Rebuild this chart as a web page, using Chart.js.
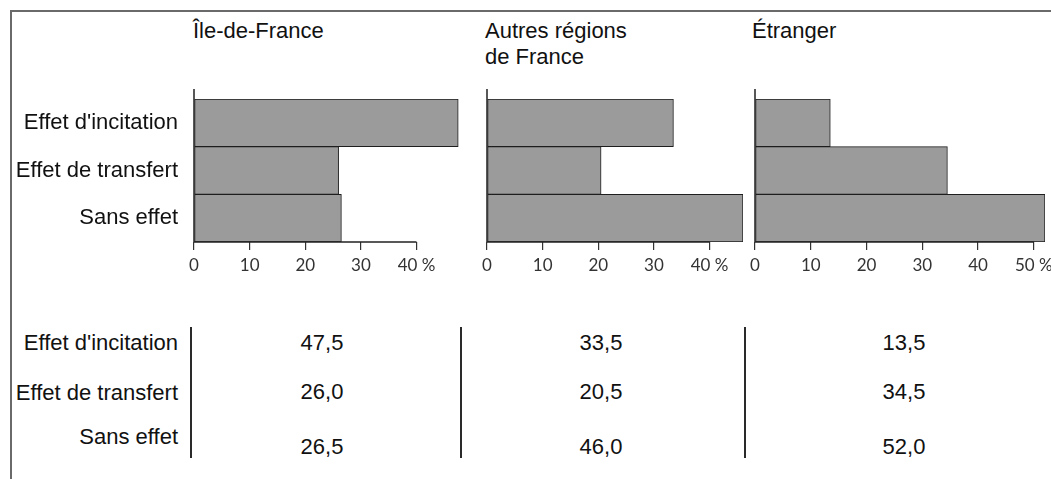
<!DOCTYPE html>
<html lang="fr">
<head>
<meta charset="utf-8">
<title>Effets par région</title>
<script src="https://cdn.jsdelivr.net/npm/chart.js@4/dist/chart.umd.min.js"></script>
<style>
  html, body { margin: 0; padding: 0; background: #fff; }
  body { width: 1051px; height: 479px; position: relative; overflow: hidden;
         font-family: "Liberation Sans", Arial, sans-serif; color: #111; }
  .frame { position: absolute; left: 10px; top: 10px; right: -10px; bottom: -10px;
           border-top: 2px solid #6a6a6a; border-left: 2px solid #6a6a6a; }
  .txt { position: absolute; font-size: 22px; line-height: 26px; white-space: nowrap; }
  .right { text-align: right; }
  .center { text-align: center; }
  .sep { position: absolute; width: 0; border-left: 2px solid #2a2a2a; }
  canvas { position: absolute; }
</style>
</head>
<body>
<div class="frame"></div>
<div id="root"></div>
<script>
// Effect categories (rows) and the three origin groups (panels)
const categories = ["Effet d'incitation", "Effet de transfert", "Sans effet"];
const regionTitles = ["Île-de-France", "Autres régions\nde France", "Étranger"];

// Shares in %, one array per origin group, in category order
const ileDeFrance = [47.5, 26.0, 26.5];
const autresRegions = [33.5, 20.5, 46.0];
const etranger = [13.5, 34.5, 52.0];

// Tick values shown on each panel's horizontal axis
const ticksIleDeFrance = [0, 10, 20, 30, 40];
const ticksAutresRegions = [0, 10, 20, 30, 40];
const ticksEtranger = [0, 10, 20, 30, 40, 50];

// Axis maxima (bars may run past the last tick)
const axisMax = [48, 46, 52];

const seriesList = [ileDeFrance, autresRegions, etranger];
const tickList = [ticksIleDeFrance, ticksAutresRegions, ticksEtranger];

// ---- layout ----
const PX_PER_UNIT = 5.56;
const panelZeroX = [194, 487, 755];
const CANVAS_TOP = 80, PAD_TOP = 19, AREA_H = 143, XAXIS_H = 40, PAD_RIGHT = 26, PAD_LEFT = 20;
const LABEL_FONT = { family: "'Liberation Sans', Arial, sans-serif", size: 22 };
const TICK_FONT = { family: "Lato, 'Open Sans', sans-serif", size: 17 };

const root = document.getElementById('root');

function addText(str, left, top, cls, width) {
  const d = document.createElement('div');
  d.className = 'txt ' + (cls || '');
  d.style.left = left + 'px';
  d.style.top = top + 'px';
  if (width) d.style.width = width + 'px';
  d.innerHTML = str.split('\n').map(s => s.replace(/&/g, '&amp;').replace(/</g, '&lt;')).join('<br>');
  root.appendChild(d);
}

// Draws the axis lines: the vertical one rising a little above the bars,
// the horizontal one running from 0 to the last labelled tick.
const axisLines = {
  id: 'axisLines',
  afterDatasetsDraw(chart) {
    const { ctx, chartArea, scales } = chart;
    const xs = scales.x;
    const last = xs.ticks[xs.ticks.length - 1].value;
    ctx.save();
    ctx.strokeStyle = '#222';
    ctx.lineWidth = 1.5;
    ctx.beginPath();
    ctx.moveTo(chartArea.left, chartArea.top - 10);
    ctx.lineTo(chartArea.left, chartArea.bottom);
    ctx.moveTo(xs.getPixelForValue(0), chartArea.bottom);
    ctx.lineTo(xs.getPixelForValue(last), chartArea.bottom);
    ctx.stroke();
    ctx.restore();
  }
};

seriesList.forEach((values, p) => {
  const showLabels = p === 0;
  const yWidth = showLabels ? panelZeroX[0] : 0;
  const padLeft = showLabels ? 0 : PAD_LEFT;
  const canvasLeft = showLabels ? 0 : panelZeroX[p] - PAD_LEFT;
  const areaW = axisMax[p] * PX_PER_UNIT;
  const cv = document.createElement('canvas');
  cv.width = Math.ceil(padLeft + yWidth + areaW + PAD_RIGHT);
  cv.height = PAD_TOP + AREA_H + XAXIS_H;
  cv.style.left = canvasLeft + 'px';
  cv.style.top = CANVAS_TOP + 'px';
  cv.style.width = cv.width + 'px';
  cv.style.height = cv.height + 'px';
  root.appendChild(cv);

  const tickVals = tickList[p];
  new Chart(cv, {
    type: 'bar',
    data: {
      labels: categories,
      datasets: [{
        data: values,
        backgroundColor: '#9b9b9b',
        borderColor: '#1e1e1e',
        borderWidth: 1,
        borderSkipped: false,
        barPercentage: 1,
        categoryPercentage: 1
      }]
    },
    options: {
      indexAxis: 'y',
      responsive: false,
      devicePixelRatio: 1,
      animation: false,
      events: [],
      layout: { padding: { left: padLeft, right: PAD_RIGHT, top: PAD_TOP, bottom: 0 } },
      plugins: { legend: { display: false }, tooltip: { enabled: false }, title: { display: false } },
      scales: {
        y: {
          type: 'category',
          border: { display: false },
          grid: { display: false, drawTicks: false },
          ticks: { display: showLabels, color: '#111', font: LABEL_FONT, padding: 16 },
          afterFit(scale) {
            scale.width = yWidth;
            scale.paddingTop = 0;
            scale.paddingBottom = 0;
          }
        },
        x: {
          type: 'linear',
          min: 0,
          max: axisMax[p],
          border: { display: false },
          grid: { display: true, drawOnChartArea: false, drawTicks: true, tickLength: 8,
                  color: '#333', lineWidth: 1.2 },
          ticks: {
            color: '#333', font: TICK_FONT, padding: 5, autoSkip: false, maxRotation: 0,
            includeBounds: false,
            callback: (v, i, arr) => i === arr.length - 1 ? v + ' %' : String(v)
          },
          afterBuildTicks(scale) { scale.ticks = tickVals.map(v => ({ value: v })); },
          afterFit(scale) {
            scale.height = XAXIS_H;
            scale.paddingLeft = 0;
            scale.paddingRight = 0;
          }
        }
      }
    },
    plugins: [axisLines]
  });
});

// Panel titles
addText(regionTitles[0], 193, 18);
addText(regionTitles[1], 485, 18);
addText(regionTitles[2], 752, 18);

// Value table below the charts
const labelCenters = [343, 393, 437];
const valueCenters = [343, 392, 447];
const colCenters = [322, 601, 904];
const sepX = [190, 460, 744];

categories.forEach((c, i) => addText(c, 0, labelCenters[i] - 13, 'right', 178));
seriesList.forEach((vals, p) => {
  vals.forEach((v, i) => {
    addText(v.toFixed(1).replace('.', ','), colCenters[p] - 60, valueCenters[i] - 13, 'center', 120);
  });
});
sepX.forEach(x => {
  const s = document.createElement('div');
  s.className = 'sep';
  s.style.left = x + 'px';
  s.style.top = '327px';
  s.style.height = '131px';
  root.appendChild(s);
});
</script>
</body>
</html>
